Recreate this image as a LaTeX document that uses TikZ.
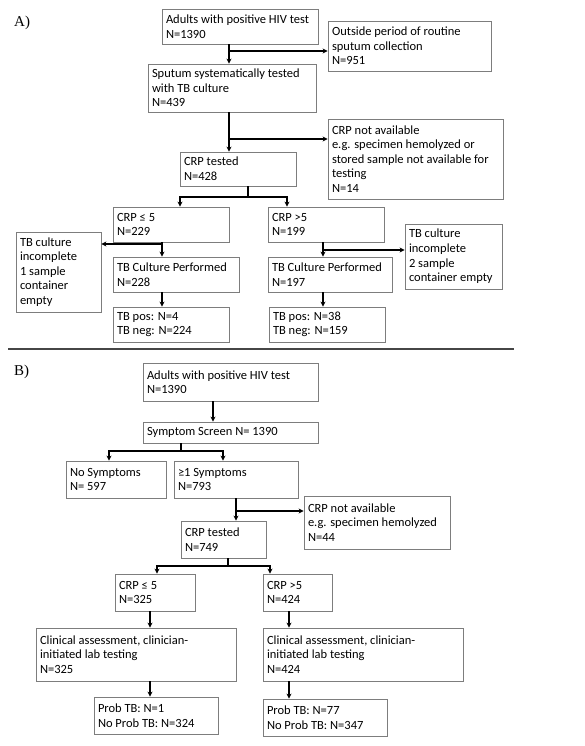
\documentclass[tikz,border=0pt]{standalone}
\usepackage{fontspec}
\setmainfont{Carlito}
\newfontfamily\labfont{Liberation Serif}
\usetikzlibrary{arrows.meta}
\definecolor{boxgray}{RGB}{125,125,125}
\definecolor{sepgray}{RGB}{70,70,70}
\newcommand\mybox[6]{%
  \pgfmathsetmacro\bw{#4-#2}\pgfmathsetmacro\bh{#5-#3}\pgfmathsetmacro\tw{#4-#2-8}%
  \node[box, minimum width=\bw pt, minimum height=\bh pt, text width=\tw pt] (#1) at ({(#2+#4)/2},{(#3+#5)/2}) {#6};}
\begin{document}
\begin{tikzpicture}[x=1pt,y=-1pt,
  box/.style={draw=boxgray, line width=0.8pt, inner xsep=4pt, inner ysep=0pt, align=flush left, font=\fontsize{12.5}{14.6}\selectfont},
  arr/.style={line width=1.1pt, -{Stealth[length=5pt,width=5pt]}},
  arr2/.style={line width=1.1pt, {Stealth[length=5pt,width=5pt]}-{Stealth[length=5pt,width=5pt]}},
  ln/.style={line width=1.1pt},
  lab/.style={font=\labfont\fontsize{15}{18}\selectfont, anchor=base west, inner sep=0pt}]
\useasboundingbox (0,0) rectangle (584,746);
% ---------------- Panel A ----------------
\node[lab] (labA) at (14,27) {A)};
\mybox{a1}{162}{9}{318}{44}{Adults with positive HIV test\\N=1390}
\mybox{a2}{328}{21}{491}{71}{Outside period of routine\\sputum collection\\N=951}
\mybox{a3}{148}{64}{316}{112}{Sputum systematically tested\\with TB culture\\N=439}
\mybox{a4}{328}{119}{503}{199}{CRP not available\\e.g. specimen hemolyzed or\\stored sample not available for\\testing\\N=14}
\mybox{a5}{180}{152}{296}{186}{CRP tested\\N=428}
\mybox{a6}{113}{207}{229}{242}{CRP ≤ 5\\N=229}
\mybox{a7}{268}{207}{384}{242}{CRP >5\\N=199}
\mybox{a8}{16}{232}{101}{312}{TB culture\\incomplete\\1 sample\\container\\empty}
\mybox{a9}{113}{257}{239}{292}{TB Culture Performed\\N=228}
\mybox{a10}{113}{307}{229}{342}{TB pos: N=4\\TB neg: N=224}
\mybox{a11}{405}{224}{502}{289}{TB culture\\incomplete\\2 sample\\container empty}
\mybox{a12}{268}{257}{392}{292}{TB Culture Performed\\N=197}
\mybox{a13}{269}{307}{385}{342}{TB pos: N=38\\TB neg: N=159}
\coordinate (tA1) at (229,51);
\draw[arr] (a1.south -| tA1) -- (a3.north -| tA1);
\draw[arr] (tA1) -- (tA1 -| a2.west);
\coordinate (tA2) at (229,139);
\draw[arr] (a3.south -| tA2) -- (a5.north -| tA2);
\draw[arr] (tA2) -- (tA2 -| a4.west);
\coordinate (sA) at (248,197);
\coordinate (sAl) at (180,197);
\coordinate (sAr) at (287,197);
\draw[ln] (a5.south -| sA) -- (sA);
\draw[arr2] (sAl |- a6.north) -- (sAl) -- (sAr) -- (sAr |- a7.north);
\coordinate (tA3) at (162,244);
\draw[arr] (a6.south -| tA3) -- (a9.north -| tA3);
\draw[arr] (tA3) -- (tA3 -| a8.east);
\draw[arr] (a9.south -| tA3) -- (a10.north -| tA3);
\coordinate (tA4) at (323,250);
\draw[arr] (a7.south -| tA4) -- (a12.north -| tA4);
\draw[arr] (tA4) -- (tA4 -| a11.west);
\draw[arr] (a12.south -| tA4) -- (a13.north -| tA4);
% separator
\draw[line width=1.4pt, sepgray] (8,349) -- (514,349);
% ---------------- Panel B ----------------
\node[lab] (labB) at (14,375) {B)};
\mybox{b1}{143}{363}{318}{401}{Adults with positive HIV test\\N=1390}
\mybox{b2}{143}{422}{318}{443}{Symptom Screen N= 1390}
\mybox{b3}{66}{461}{166}{498}{No Symptoms\\N= 597}
\mybox{b4}{174}{461}{298}{498}{≥1 Symptoms\\N=793}
\mybox{b5}{304}{496}{450}{549}{CRP not available\\e.g. specimen hemolyzed\\N=44}
\mybox{b6}{181}{521}{266}{558}{CRP tested\\N=749}
\mybox{b7}{115}{574}{195}{611}{CRP ≤ 5\\N=325}
\mybox{b8}{263}{574}{332}{611}{CRP >5\\N=424}
\mybox{b9}{36}{628}{236}{681}{Clinical assessment, clinician-\\initiated lab testing\\N=325}
\mybox{b10}{263}{628}{463}{681}{Clinical assessment, clinician-\\initiated lab testing\\N=424}
\mybox{b11}{94}{697}{218}{734}{Prob TB: N=1\\No Prob TB: N=324}
\mybox{b12}{263}{699}{387}{736}{Prob TB: N=77\\No Prob TB: N=347}
\coordinate (tB1) at (213,410);
\draw[arr] (b1.south -| tB1) -- (b2.north -| tB1);
\coordinate (sB1) at (181,451);
\coordinate (sB1l) at (109,451);
\coordinate (sB1r) at (223,451);
\draw[ln] (b2.south -| sB1) -- (sB1);
\draw[arr2] (sB1l |- b3.north) -- (sB1l) -- (sB1r) -- (sB1r |- b4.north);
\coordinate (tB2) at (236,511);
\draw[arr] (b4.south -| tB2) -- (b6.north -| tB2);
\draw[arr] (tB2) -- (tB2 -| b5.west);
\coordinate (sB2) at (228,566);
\coordinate (sB2l) at (157,566);
\coordinate (sB2r) at (270,566);
\draw[ln] (b6.south -| sB2) -- (sB2);
\draw[arr2] (sB2l |- b7.north) -- (sB2l) -- (sB2r) -- (sB2r |- b8.north);
\coordinate (tB3) at (150,620);
\draw[arr] (b7.south -| tB3) -- (b9.north -| tB3);
\draw[arr] (b9.south -| tB3) -- (b11.north -| tB3);
\coordinate (tB4) at (289,620);
\draw[arr] (b8.south -| tB4) -- (b10.north -| tB4);
\draw[arr] (b10.south -| tB4) -- (b12.north -| tB4);
\end{tikzpicture}
\end{document}
